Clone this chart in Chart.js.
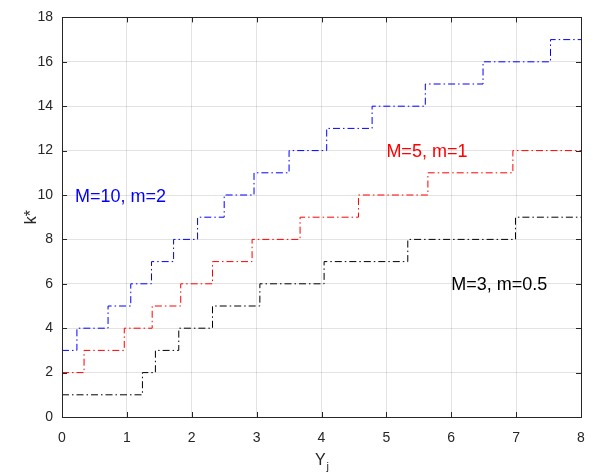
<!DOCTYPE html>
<html>
<head>
<meta charset="utf-8">
<script src="https://cdn.jsdelivr.net/npm/chart.js@4.4.1/dist/chart.umd.min.js"></script>
<style>
  html, body { margin: 0; padding: 0; background: #fff; }
</style>
</head>
<body>
<canvas id="chart" width="593" height="476"></canvas>
<script>
// step positions (Y_j) and the k* level reached at each of them
const blueX  = [0, 0.23, 0.71, 1.06, 1.38, 1.72, 2.09, 2.50, 2.96, 3.50, 4.08, 4.78, 5.60, 6.49, 7.53, 8];
const blueK  = [3, 4, 5, 6, 7, 8, 9, 10, 11, 12, 13, 14, 15, 16, 17, 17];
const redX   = [0, 0.34, 0.96, 1.39, 1.83, 2.32, 2.93, 3.67, 4.57, 5.64, 6.95, 8];
const redK   = [2, 3, 4, 5, 6, 7, 8, 9, 10, 11, 12, 12];
const blackX = [0, 1.24, 1.44, 1.80, 2.32, 3.05, 4.04, 5.33, 6.99, 8];
const blackK = [1, 2, 3, 4, 5, 6, 7, 8, 9, 9];

const seriesNames = ["M=10, m=2", "M=5, m=1", "M=3, m=0.5"];
const seriesColors = ["#0000ff", "#ff0000", "#000000"];
// where the text labels sit (data units, left / middle)
const labelX = [0.2, 5, 6];
const labelY = [10, 12, 6];

const xTitle = "Y";
const xTitleSub = "j";
const yTitle = "k*";

const FONT = "'Liberation Sans', Arial, sans-serif";
const AXIS = "#262626";

const toPoints = (xs, ks) => xs.map((x, i) => ({ x: x, y: ks[i] }));

const makeSet = (label, xs, ks, color) => ({
  label: label,
  data: toPoints(xs, ks),
  borderColor: color,
  backgroundColor: color,
  borderWidth: 1,
  borderDash: [7, 3, 1.5, 3],
  stepped: "before",
  pointRadius: 0,
  fill: false,
});

// box, inward ticks, axis titles and series labels
const decorations = {
  id: "decorations",
  afterDraw(chart) {
    const ctx = chart.ctx;
    const a = chart.chartArea;
    const xs = chart.scales.x, ys = chart.scales.y;
    ctx.save();
    ctx.strokeStyle = AXIS;
    ctx.lineWidth = 1;
    ctx.strokeRect(Math.round(a.left) + 0.5, Math.round(a.top) + 0.5,
                   Math.round(a.right - a.left), Math.round(a.bottom - a.top));
    ctx.beginPath();
    xs.ticks.forEach(t => {
      const px = Math.round(xs.getPixelForValue(t.value)) + 0.5;
      ctx.moveTo(px, a.bottom); ctx.lineTo(px, a.bottom - 5);
      ctx.moveTo(px, a.top); ctx.lineTo(px, a.top + 5);
    });
    ys.ticks.forEach(t => {
      const py = Math.round(ys.getPixelForValue(t.value)) + 0.5;
      ctx.moveTo(a.left, py); ctx.lineTo(a.left + 5, py);
      ctx.moveTo(a.right, py); ctx.lineTo(a.right - 5, py);
    });
    ctx.stroke();

    // x title with subscript
    ctx.fillStyle = AXIS;
    ctx.font = "16px " + FONT;
    ctx.textBaseline = "alphabetic";
    const cx = (a.left + a.right) / 2;
    const wY = ctx.measureText(xTitle).width;
    ctx.font = "11px " + FONT;
    const wJ = ctx.measureText(xTitleSub).width;
    const startX = cx - (wY + wJ) / 2;
    ctx.font = "16px " + FONT;
    ctx.textAlign = "left";
    ctx.fillText(xTitle, startX, 465);
    ctx.font = "11px " + FONT;
    ctx.fillText(xTitleSub, startX + wY + 1, 470);

    // y title
    ctx.save();
    ctx.translate(36, (a.top + a.bottom) / 2);
    ctx.rotate(-Math.PI / 2);
    ctx.font = "16px " + FONT;
    ctx.textAlign = "center";
    ctx.fillText(yTitle, 0, 0);
    ctx.restore();

    // series labels
    ctx.font = "18px " + FONT;
    ctx.textAlign = "left";
    seriesNames.forEach((name, i) => {
      ctx.fillStyle = seriesColors[i];
      ctx.fillText(name, xs.getPixelForValue(labelX[i]), ys.getPixelForValue(labelY[i]) + 6.5);
    });
    ctx.restore();
  },
};

new Chart(document.getElementById("chart"), {
  type: "line",
  data: {
    datasets: [
      makeSet(seriesNames[0], blueX, blueK, seriesColors[0]),
      makeSet(seriesNames[1], redX, redK, seriesColors[1]),
      makeSet(seriesNames[2], blackX, blackK, seriesColors[2]),
    ],
  },
  plugins: [decorations],
  options: {
    responsive: false,
    animation: false,
    layout: { padding: { left: 0, right: 12, top: 12, bottom: 0 } },
    plugins: {
      legend: { display: false },
      tooltip: { enabled: false },
    },
    scales: {
      x: {
        type: "linear",
        min: 0,
        max: 8,
        ticks: { stepSize: 1, color: AXIS, font: { family: FONT, size: 14 }, padding: 13, maxRotation: 0 },
        grid: { color: "rgba(38,38,38,0.13)", drawTicks: false },
        border: { display: false },
        afterFit(scale) {
          scale.height = 59;
          scale.paddingLeft = 0;
          scale.paddingRight = 0;
        },
      },
      y: {
        min: 0,
        max: 18,
        ticks: { stepSize: 2, color: AXIS, font: { family: FONT, size: 14 }, padding: 9 },
        grid: { color: "rgba(38,38,38,0.13)", drawTicks: false },
        border: { display: false },
        afterFit(scale) { scale.width = 62; },
      },
    },
  },
});
</script>
</body>
</html>
